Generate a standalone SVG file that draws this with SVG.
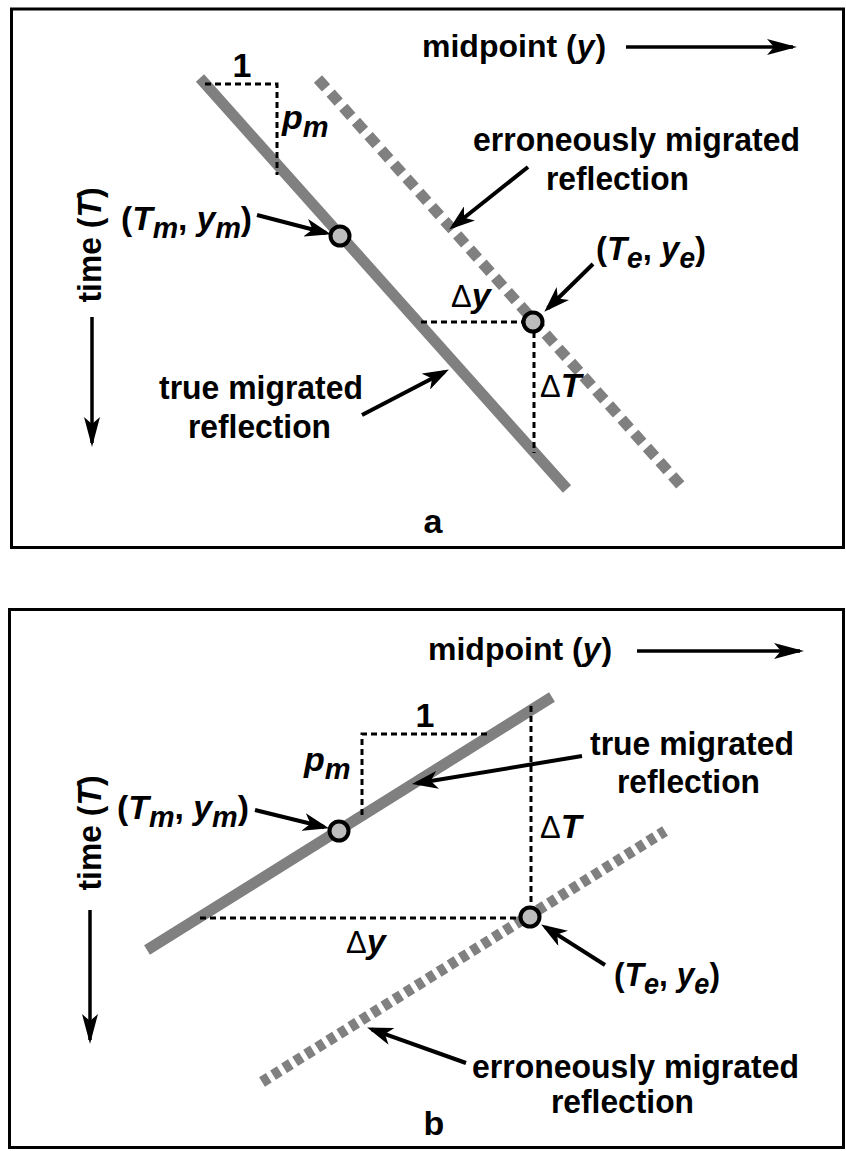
<svg xmlns="http://www.w3.org/2000/svg" width="846" height="1151" viewBox="0 0 846 1151">
<style>
.frame{fill:none;stroke:#000;stroke-width:3}
.t{font-family:"Liberation Sans",Arial,sans-serif;font-weight:bold;font-size:34px;fill:#000}
.mp{font-size:32px}
.it{font-style:italic}
.sub{font-size:29px;font-style:italic}
.delta{font-family:"Liberation Sans",Arial,sans-serif;font-weight:normal;font-size:31px}
.true{stroke:#808080;stroke-width:11;fill:none}
.errA{stroke:#808080;stroke-width:11;fill:none;stroke-dasharray:12 7}
.errB{stroke:#808080;stroke-width:11;fill:none;stroke-dasharray:8 5}
.guide{stroke:#000;stroke-width:3;fill:none;stroke-dasharray:6 4}
.arr{stroke:#000;stroke-width:4;fill:none;marker-end:url(#ah)}
.axis{stroke:#000;stroke-width:3.5;fill:none;marker-end:url(#ahL)}
.pt{fill:#bdbdbd;stroke:#000;stroke-width:4}
</style>
<defs>
<marker id="ah" viewBox="0 0 26 18" markerWidth="26" markerHeight="18" refX="21" refY="9" orient="auto" markerUnits="userSpaceOnUse"><path d="M0,0 L26,9 L0,18 L7,9 Z" fill="#000"/></marker>
<marker id="ahL" viewBox="0 0 30 16" markerWidth="30" markerHeight="16" refX="26" refY="8" orient="auto" markerUnits="userSpaceOnUse"><path d="M0,0 L30,8 L0,16 L7,8 Z" fill="#000"/></marker>
</defs>
<rect width="846" height="1151" fill="#fff"/>

<!-- Panel a -->
<g id="panel-a">
<rect class="frame" x="11.5" y="9" width="832" height="538.5"/>
<g id="a-reflections">
<line class="true" x1="200" y1="78" x2="567" y2="489"/>
<line class="errA" x1="318" y1="79" x2="684" y2="489"/>
</g>
<g id="a-guides">
<path class="guide" d="M205,84 H277 V175"/>
<path class="guide" d="M421,322 H524"/>
<path class="guide" d="M534,332 V453"/>
</g>
<g id="a-midpoint"><text class="t mp" x="422" y="57">midpoint (<tspan class="it">y</tspan><tspan dx="1">)</tspan></text></g>
<g id="a-time"><text class="t" transform="translate(101,245) rotate(-90)" text-anchor="middle" textLength="115" lengthAdjust="spacingAndGlyphs">time (<tspan class="it">T</tspan>)</text></g>
<g id="a-one"><text class="t" x="242" y="77" text-anchor="middle" font-size="30">1</text></g>
<g id="a-pm"><text class="t" x="282" y="129"><tspan class="it">p</tspan><tspan class="sub" dy="8">m</tspan></text></g>
<g id="a-Tm-point"><circle class="pt" cx="340" cy="236" r="9.5"/></g>
<g id="a-Tm-label"><text class="t" x="121" y="230" textLength="131" lengthAdjust="spacingAndGlyphs">(<tspan class="it">T</tspan><tspan class="sub" dy="8">m</tspan><tspan dy="-8">, </tspan><tspan class="it">y</tspan><tspan class="sub" dy="8">m</tspan><tspan dy="-8">)</tspan></text></g>
<g id="a-err-label"><text class="t" x="473" y="151" textLength="327" lengthAdjust="spacingAndGlyphs">erroneously migrated</text><text class="t" x="546" y="190" textLength="143" lengthAdjust="spacingAndGlyphs">reflection</text></g>
<g id="a-Te-label"><text class="t" x="596" y="260" textLength="110" lengthAdjust="spacingAndGlyphs">(<tspan class="it">T</tspan><tspan class="sub" dy="8">e</tspan><tspan dy="-8">, </tspan><tspan class="it">y</tspan><tspan class="sub" dy="8">e</tspan><tspan dy="-8">)</tspan></text></g>
<g id="a-Te-point"><circle class="pt" cx="533" cy="322" r="9.5"/></g>
<g id="a-dy"><text class="t" x="451" y="307"><tspan class="delta">Δ</tspan><tspan class="it">y</tspan></text></g>
<g id="a-dT"><text class="t" x="540" y="397"><tspan class="delta">Δ</tspan><tspan class="it">T</tspan></text></g>
<g id="a-true-label"><text class="t" x="159" y="399" textLength="204" lengthAdjust="spacingAndGlyphs">true migrated</text><text class="t" x="188" y="438" textLength="143" lengthAdjust="spacingAndGlyphs">reflection</text></g>
<g id="a-caption"><text class="t" x="433" y="533" text-anchor="middle" font-size="40">a</text></g>
</g>

<!-- Panel b -->
<g id="panel-b">
<rect class="frame" x="9.5" y="609.5" width="834" height="538"/>
<g id="b-reflections">
<line class="true" x1="147" y1="950" x2="552" y2="697"/>
<line class="errB" x1="262" y1="1082" x2="665" y2="831"/>
</g>
<g id="b-guides">
<path class="guide" d="M362,815 V734 H488"/>
<path class="guide" d="M531,706 V906"/>
<path class="guide" d="M200,918 H520"/>
</g>
<g id="b-midpoint"><text class="t mp" x="428" y="660">midpoint (<tspan class="it">y</tspan><tspan dx="1">)</tspan></text></g>
<g id="b-time"><text class="t" transform="translate(101,833) rotate(-90)" text-anchor="middle" textLength="115" lengthAdjust="spacingAndGlyphs">time (<tspan class="it">T</tspan>)</text></g>
<g id="b-one"><text class="t" x="425" y="727" text-anchor="middle" font-size="30">1</text></g>
<g id="b-pm"><text class="t" x="304" y="771"><tspan class="it">p</tspan><tspan class="sub" dy="8">m</tspan></text></g>
<g id="b-Tm-point"><circle class="pt" cx="339" cy="831" r="9.5"/></g>
<g id="b-Tm-label"><text class="t" x="117" y="819" textLength="132" lengthAdjust="spacingAndGlyphs">(<tspan class="it">T</tspan><tspan class="sub" dy="8">m</tspan><tspan dy="-8">, </tspan><tspan class="it">y</tspan><tspan class="sub" dy="8">m</tspan><tspan dy="-8">)</tspan></text></g>
<g id="b-true-label"><text class="t" x="590" y="755" textLength="204" lengthAdjust="spacingAndGlyphs">true migrated</text><text class="t" x="617" y="793" textLength="143" lengthAdjust="spacingAndGlyphs">reflection</text></g>
<g id="b-dT"><text class="t" x="540" y="838"><tspan class="delta">Δ</tspan><tspan class="it">T</tspan></text></g>
<g id="b-Te-point"><circle class="pt" cx="530" cy="917" r="9.5"/></g>
<g id="b-dy"><text class="t" x="346" y="953"><tspan class="delta">Δ</tspan><tspan class="it">y</tspan></text></g>
<g id="b-Te-label"><text class="t" x="614" y="986" textLength="106" lengthAdjust="spacingAndGlyphs">(<tspan class="it">T</tspan><tspan class="sub" dy="8">e</tspan><tspan dy="-8">, </tspan><tspan class="it">y</tspan><tspan class="sub" dy="8">e</tspan><tspan dy="-8">)</tspan></text></g>
<g id="b-err-label"><text class="t" x="472" y="1078" textLength="327" lengthAdjust="spacingAndGlyphs">erroneously migrated</text><text class="t" x="551" y="1113" textLength="143" lengthAdjust="spacingAndGlyphs">reflection</text></g>
<g id="b-caption"><text class="t" x="434" y="1135" text-anchor="middle" font-size="40">b</text></g>
</g>

<g id="connectors">
<line class="axis" x1="626" y1="47" x2="793" y2="47"/>
<line class="axis" x1="92" y1="317" x2="92" y2="443"/>
<line class="arr" x1="257" y1="215" x2="326.1" y2="233"/>
<line class="arr" x1="528" y1="167" x2="453.1" y2="226.5"/>
<line class="arr" x1="593" y1="264" x2="547.9" y2="308.2"/>
<line class="arr" x1="362" y1="415" x2="444.5" y2="371.9"/>
<line class="axis" x1="637" y1="651" x2="800" y2="651"/>
<line class="axis" x1="90" y1="910" x2="90" y2="1040"/>
<line class="arr" x1="255" y1="810" x2="324.1" y2="827"/>
<line class="arr" x1="582" y1="756" x2="416.9" y2="783.3"/>
<line class="arr" x1="605" y1="965" x2="545.4" y2="927.1"/>
<line class="arr" x1="466" y1="1063" x2="371.8" y2="1029.3"/>
</g>
</svg>
